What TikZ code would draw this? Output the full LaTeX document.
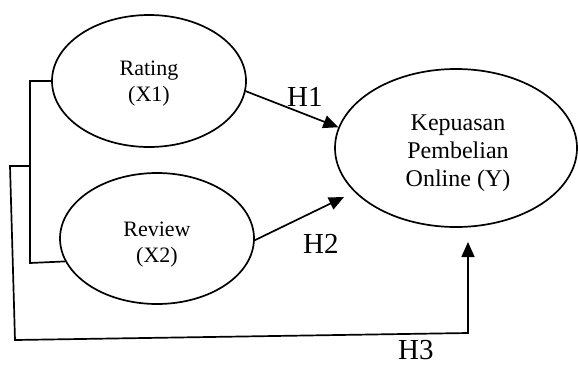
\documentclass[tikz,border=0pt]{standalone}
\usepackage{fontspec}
\setmainfont{Liberation Serif}
\usetikzlibrary{shapes.geometric,arrows.meta}
\begin{document}
\begin{tikzpicture}[x=1pt,y=-1pt,
  line/.style={line width=1.7pt, line join=miter},
  oval/.style={ellipse, draw, line width=1.7pt, inner sep=0pt},
  arr/.style={line, -{Triangle[length=15pt,width=13pt]}},
  small/.style={anchor=base, inner sep=0pt, font=\fontsize{22}{26}\selectfont},
  big/.style={anchor=base, inner sep=0pt, font=\fontsize{24}{28}\selectfont},
  hlab/.style={anchor=base west, inner sep=0pt, font=\fontsize{29}{32}\selectfont}]
\useasboundingbox (0,0) rectangle (578,365);
\node[oval, minimum width=194pt, minimum height=132pt] (r) at (149,81) {};
\node[oval, minimum width=194pt, minimum height=131pt] (v) at (157,238.5) {};
\node[oval, minimum width=242pt, minimum height=158pt] (y) at (456,148) {};
% texts
\node[small] (r1) at (149,75.7) {Rating};
\node[small] (r2) at (149,101.7) {(X1)};
\node[small] (v1) at (157,236) {Review};
\node[small] (v2) at (157,262) {(X2)};
\node[big] (y1) at (458,130.7) {Kepuasan};
\node[big] (y2) at (458,158) {Pembelian};
\node[big] (y3) at (458,186) {Online (Y)};
% named points
\coordinate (t2) at (344,197);
\coordinate (b1) at (30,81);
\coordinate (b2) at (30,263);
\coordinate (j) at (30,166);
\coordinate (o1) at (10,166);
\coordinate (o2) at (15,340);
\coordinate (o3) at (468,333);
\coordinate (t3) at (468,242);
% connectors
\draw[arr] (r.-6.5) -- (y.170);
\draw[arr] (v.-1) -- (t2);
\draw[line] (r.west) -- (b1) -- (b2) -- (v.194);
\draw[arr] (j) -- (o1) -- (o2) -- (o3) -- (t3);
% labels
\node[hlab] (h1) at (287,106) {H1};
\node[hlab] (h2) at (303,253) {H2};
\node[hlab] (h3) at (398,359) {H3};
\end{tikzpicture}
\end{document}
